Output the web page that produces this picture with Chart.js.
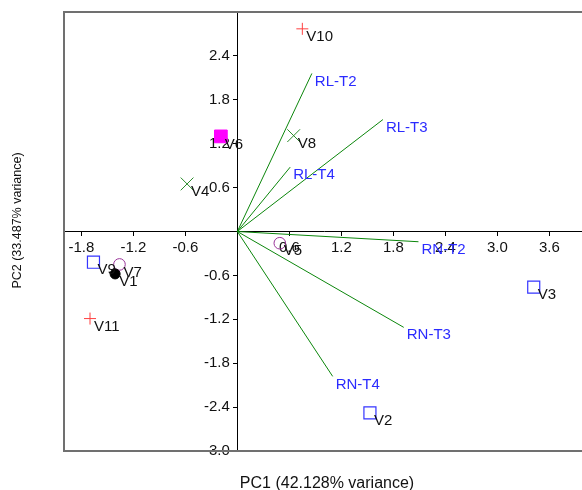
<!DOCTYPE html>
<html>
<head>
<meta charset="utf-8">
<script src="https://cdn.jsdelivr.net/npm/chart.js@4/dist/chart.umd.min.js"></script>
<style>
  html, body { margin: 0; padding: 0; background: #fff; overflow: hidden; }
  #wrap { width: 600px; height: 490px; }
</style>
</head>
<body>
<div id="wrap"><canvas id="chart1" width="600" height="490"></canvas></div>
<script>
// PCA scores of the varieties
const varNames = ['V1', 'V2', 'V3', 'V4', 'V5', 'V6', 'V7', 'V8', 'V9', 'V10', 'V11'];
const pc1Scores = [-1.41, 1.53, 3.42, -0.58, 0.49, -0.19, -1.36, 0.65, -1.66, 0.75, -1.70];
const pc2Scores = [-0.58, -2.48, -0.76, 0.65, -0.16, 1.30, -0.45, 1.31, -0.42, 2.77, -1.19];
// marker group of each variety (index into markerGroups)
const varGroup = [4, 2, 2, 1, 3, 5, 3, 1, 2, 0, 0];

// loadings (vectors from origin)
const loadNames = ['RL-T2', 'RL-T3', 'RL-T4', 'RN-T2', 'RN-T3', 'RN-T4'];
const loadPC1 = [0.86, 1.68, 0.61, 2.09, 1.92, 1.10];
const loadPC2 = [2.16, 1.53, 0.88, -0.14, -1.31, -1.98];

// tick labels
const xTicks = [-1.8, -1.2, -0.6, 0.6, 1.2, 1.8, 2.4, 3.0, 3.6];
const yTicks = [2.4, 1.8, 1.2, 0.6, -0.6, -1.2, -1.8, -2.4, -3.0];

const xTitle = 'PC1 (42.128% variance)';
const yTitle = 'PC2 (33.487% variance)';

const FONT = '"Liberation Sans", Arial, sans-serif';

// marker styles per group
const markerGroups = [
    { style: 'cross', radius: 6, color: '#ff4040', fill: 'transparent', width: 1 },
    { style: 'crossRot', radius: 9, color: '#2a8a2a', fill: 'transparent', width: 1 },
    { style: 'rect', radius: 8.5, color: '#3535ff', fill: 'transparent', width: 1.2 },
    { style: 'circle', radius: 5.8, color: '#993399', fill: 'transparent', width: 1 },
    { style: 'circle', radius: 5, color: '#000000', fill: '#000000', width: 1 },
    { style: 'rect', radius: 9, color: '#ff00ff', fill: '#ff00ff', width: 1 }
];

const datasets = [];

// loading vectors first so the markers sit on top
loadNames.forEach((name, i) => {
    datasets.push({
        type: 'line',
        label: name,
        kind: 'vector',
        data: [{ x: 0, y: 0 }, { x: loadPC1[i], y: loadPC2[i] }],
        borderColor: '#0b860b',
        borderWidth: 1,
        pointRadius: 0,
        showLine: true,
        fill: false
    });
});

varNames.forEach((name, i) => {
    const g = markerGroups[varGroup[i]];
    datasets.push({
        type: 'scatter',
        label: name,
        kind: 'score',
        data: [{ x: pc1Scores[i], y: pc2Scores[i] }],
        pointStyle: g.style,
        pointRadius: g.radius,
        pointBorderColor: g.color,
        pointBackgroundColor: g.fill,
        pointBorderWidth: g.width
    });
});

// text labels beside points and at the tip of each vector
const labelPlugin = {
    id: 'labels',
    afterDatasetsDraw(chart) {
        const ctx = chart.ctx;
        ctx.save();
        ctx.font = '15px ' + FONT;
        ctx.textAlign = 'left';
        ctx.textBaseline = 'middle';
        chart.data.datasets.forEach((ds, i) => {
            const meta = chart.getDatasetMeta(i);
            const el = meta.data[meta.data.length - 1];
            if (ds.kind === 'vector') {
                ctx.fillStyle = '#2b2bff';
                ctx.fillText(ds.label, el.x + 3, el.y + 8);
            } else {
                ctx.fillStyle = '#111';
                ctx.fillText(ds.label, el.x + 4, el.y + 8);
            }
        });
        ctx.restore();
    }
};

// grey frame and axis titles
const framePlugin = {
    id: 'frame',
    afterDraw(chart) {
        const { ctx, chartArea: a } = chart;
        ctx.save();
        ctx.strokeStyle = '#707070';
        ctx.lineWidth = 2;
        ctx.strokeRect(a.left, a.top, a.right - a.left, a.bottom - a.top);
        ctx.fillStyle = '#111';
        ctx.textAlign = 'center';
        ctx.textBaseline = 'middle';
        ctx.font = '16px ' + FONT;
        ctx.fillText(xTitle, (a.left + a.right) / 2 + 3, a.bottom + 33);
        ctx.translate(18, (a.top + a.bottom) / 2 - 11);
        ctx.rotate(-Math.PI / 2);
        ctx.font = '12.5px ' + FONT;
        ctx.fillText(yTitle, 0, 0);
        ctx.restore();
    }
};

const ctx1 = document.getElementById('chart1').getContext('2d');
const myChart1 = new Chart(ctx1, {
    type: 'scatter',
    data: { datasets: datasets },
    options: {
        responsive: false,
        animation: false,
        layout: { padding: { left: 64, top: 10, right: 16, bottom: 39 } },
        plugins: { legend: { display: false }, tooltip: { enabled: false } },
        scales: {
            x: {
                type: 'linear',
                min: -2, max: 4,
                position: { y: 0 },
                afterBuildTicks: s => { s.ticks = xTicks.map(v => ({ value: v })); },
                ticks: { callback: v => v.toFixed(1), color: '#111', font: { family: FONT, size: 15 }, padding: 3, maxRotation: 0, autoSkip: false },
                grid: { drawOnChartArea: false, drawTicks: true, tickLength: 4, color: '#000' },
                border: { color: '#000', width: 1 }
            },
            y: {
                type: 'linear',
                min: -3, max: 3,
                position: { x: 0 },
                afterBuildTicks: s => { s.ticks = yTicks.map(v => ({ value: v })); },
                // centred axis puts labels flush with the line, so pad with an en space
                ticks: { callback: v => v.toFixed(1) + '\u2002', color: '#111', font: { family: FONT, size: 15 }, padding: 3, autoSkip: false },
                grid: { drawOnChartArea: false, drawTicks: true, tickLength: 4, color: '#000' },
                border: { color: '#000', width: 1 }
            }
        }
    },
    plugins: [labelPlugin, framePlugin]
});
</script>
</body>
</html>
